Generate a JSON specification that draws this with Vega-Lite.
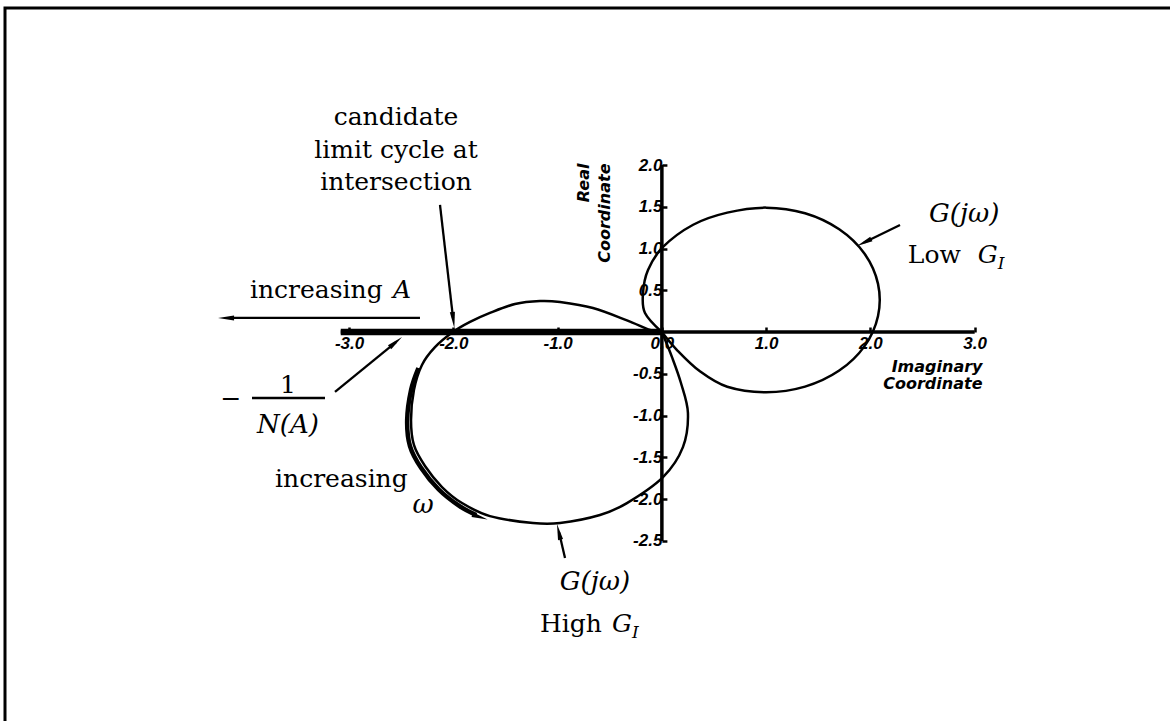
{
  "$schema": "https://vega.github.io/schema/vega-lite/v6.json",
  "width": 1173,
  "height": 725,
  "autosize": {"type": "none"},
  "padding": {"left": 5, "top": 8, "right": 0, "bottom": 0},
  "background": "white",
  "config": {
    "view": {"stroke": "black", "strokeWidth": 3},
    "axis": {"grid": false, "domain": false, "tickColor": "black", "labelColor": "black", "titleColor": "black", "labelFlush": false, "labelOverlap": false, "labelBound": false}
  },
  "layer": [
    {
      "data": {"values": [
        {"part": "imaginary axis", "x": -3.08, "x2": 3.0, "y": 0, "y2": 0},
        {"part": "real axis", "x": 0, "x2": 0, "y": -2.5, "y2": 2.0}
      ]},
      "mark": {"type": "rule", "color": "black", "strokeWidth": 3.5},
      "encoding": {
        "x": {"field": "x", "type": "quantitative",
          "scale": {"domain": [-6.3, 4.95], "nice": false, "zero": false},
          "axis": {"orient": "bottom", "offset": -401, "values": [-3, -2, -1, 0, 1, 2, 3],
            "labelExpr": "replace(format(datum.value, '.1f'), '\u2212', '-')",
            "tickSize": -5, "tickWidth": 2.5, "labelPadding": 8,
            "labelFont": "Liberation Sans", "labelFontSize": 17, "labelFontWeight": "bold", "labelFontStyle": "italic",
            "title": ["Imaginary", "Coordinate"], "titleFont": "DejaVu Sans", "titleFontSize": 16, "titleFontWeight": "bold", "titleFontStyle": "italic",
            "titleAlign": "right", "titleAngle": 0, "titleBaseline": "alphabetic", "titleLineHeight": 17, "titleX": 977, "titleY": 39}},
        "x2": {"field": "x2"},
        "y": {"field": "y", "type": "quantitative",
          "scale": {"domain": [-4.8, 3.88], "nice": false, "zero": false},
          "axis": {"orient": "left", "offset": -656.9, "values": [-2.5, -2, -1.5, -1, -0.5, 0.5, 1, 1.5, 2],
            "labelExpr": "replace(format(datum.value, '.1f'), '\u2212', '-')",
            "tickSize": -5, "tickWidth": 2.5, "labelPadding": 5,
            "labelFont": "Liberation Sans", "labelFontSize": 17, "labelFontWeight": "bold", "labelFontStyle": "italic",
            "title": ["Real", "Coordinate"], "titleFont": "DejaVu Sans", "titleFontSize": 16, "titleFontWeight": "bold", "titleFontStyle": "italic",
            "titleAlign": "right", "titleAngle": 270, "titleBaseline": "alphabetic", "titleLineHeight": 21, "titleX": -73.4, "titleY": 155}},
        "y2": {"field": "y2"}
      }
    },
    {
      "data": {"values": [{"locus": "-1/N(A)", "x": -3.08, "x2": 0, "y": 0, "y2": 0}]},
      "mark": {"type": "rule", "color": "black", "strokeWidth": 6.5},
      "encoding": {
        "x": {"field": "x", "type": "quantitative"}, "x2": {"field": "x2"},
        "y": {"field": "y", "type": "quantitative"}, "y2": {"field": "y2"}
      }
    },
    {
      "data": {"values": [
        {"curve": "High G_I", "i": 0, "x": 0, "y": 0},
        {"curve": "High G_I", "i": 1, "x": -0.114, "y": 0.025},
        {"curve": "High G_I", "i": 2, "x": -0.335, "y": 0.14},
        {"curve": "High G_I", "i": 3, "x": -0.661, "y": 0.288},
        {"curve": "High G_I", "i": 4, "x": -0.977, "y": 0.36},
        {"curve": "High G_I", "i": 5, "x": -1.169, "y": 0.372},
        {"curve": "High G_I", "i": 6, "x": -1.409, "y": 0.336},
        {"curve": "High G_I", "i": 7, "x": -1.649, "y": 0.229},
        {"curve": "High G_I", "i": 8, "x": -1.84, "y": 0.121},
        {"curve": "High G_I", "i": 9, "x": -2.004, "y": 0.0},
        {"curve": "High G_I", "i": 10, "x": -2.176, "y": -0.181},
        {"curve": "High G_I", "i": 11, "x": -2.301, "y": -0.394},
        {"curve": "High G_I", "i": 12, "x": -2.378, "y": -0.693},
        {"curve": "High G_I", "i": 13, "x": -2.406, "y": -1.052},
        {"curve": "High G_I", "i": 14, "x": -2.378, "y": -1.351},
        {"curve": "High G_I", "i": 15, "x": -2.272, "y": -1.603},
        {"curve": "High G_I", "i": 16, "x": -2.109, "y": -1.855},
        {"curve": "High G_I", "i": 17, "x": -1.917, "y": -2.047},
        {"curve": "High G_I", "i": 18, "x": -1.649, "y": -2.203},
        {"curve": "High G_I", "i": 19, "x": -1.236, "y": -2.286},
        {"curve": "High G_I", "i": 20, "x": -0.977, "y": -2.286},
        {"curve": "High G_I", "i": 21, "x": -0.594, "y": -2.19},
        {"curve": "High G_I", "i": 22, "x": -0.335, "y": -2.047},
        {"curve": "High G_I", "i": 23, "x": 0.011, "y": -1.736},
        {"curve": "High G_I", "i": 24, "x": 0.202, "y": -1.377},
        {"curve": "High G_I", "i": 25, "x": 0.25, "y": -0.97},
        {"curve": "High G_I", "i": 26, "x": 0.183, "y": -0.61},
        {"curve": "High G_I", "i": 27, "x": 0.097, "y": -0.3},
        {"curve": "High G_I", "i": 28, "x": 0, "y": 0},
        {"curve": "Low G_I", "i": 0, "x": 0, "y": 0},
        {"curve": "Low G_I", "i": 1, "x": 0.145, "y": -0.215},
        {"curve": "Low G_I", "i": 2, "x": 0.365, "y": -0.47},
        {"curve": "Low G_I", "i": 3, "x": 0.627, "y": -0.655},
        {"curve": "Low G_I", "i": 4, "x": 1.0, "y": -0.72},
        {"curve": "Low G_I", "i": 5, "x": 1.373, "y": -0.653},
        {"curve": "Low G_I", "i": 6, "x": 1.701, "y": -0.461},
        {"curve": "Low G_I", "i": 7, "x": 1.944, "y": -0.168},
        {"curve": "Low G_I", "i": 8, "x": 2.073, "y": 0.193},
        {"curve": "Low G_I", "i": 9, "x": 2.073, "y": 0.577},
        {"curve": "Low G_I", "i": 10, "x": 1.944, "y": 0.938},
        {"curve": "Low G_I", "i": 11, "x": 1.701, "y": 1.231},
        {"curve": "Low G_I", "i": 12, "x": 1.373, "y": 1.423},
        {"curve": "Low G_I", "i": 13, "x": 1.0, "y": 1.49},
        {"curve": "Low G_I", "i": 14, "x": 0.627, "y": 1.43},
        {"curve": "Low G_I", "i": 15, "x": 0.3, "y": 1.285},
        {"curve": "Low G_I", "i": 16, "x": 0.011, "y": 1.019},
        {"curve": "Low G_I", "i": 17, "x": -0.133, "y": 0.743},
        {"curve": "Low G_I", "i": 18, "x": -0.181, "y": 0.468},
        {"curve": "Low G_I", "i": 19, "x": -0.162, "y": 0.229},
        {"curve": "Low G_I", "i": 20, "x": 0, "y": 0}
      ]},
      "mark": {"type": "line", "interpolate": "cardinal", "color": "black", "strokeWidth": 2.5},
      "encoding": {
        "x": {"field": "x", "type": "quantitative"},
        "y": {"field": "y", "type": "quantitative"},
        "detail": {"field": "curve"},
        "order": {"field": "i", "type": "quantitative"}
      }
    },
    {
      "data": {"values": [
        {"i": 0, "x": -2.335, "y": -0.43},
        {"i": 1, "x": -2.405, "y": -0.69},
        {"i": 2, "x": -2.443, "y": -1.052},
        {"i": 3, "x": -2.416, "y": -1.365},
        {"i": 4, "x": -2.31, "y": -1.625},
        {"i": 5, "x": -2.14, "y": -1.885},
        {"i": 6, "x": -1.94, "y": -2.085},
        {"i": 7, "x": -1.78, "y": -2.19}
      ]},
      "mark": {"type": "line", "interpolate": "cardinal", "color": "black", "strokeWidth": 4.5},
      "encoding": {
        "x": {"field": "x", "type": "quantitative"},
        "y": {"field": "y", "type": "quantitative"},
        "order": {"field": "i", "type": "quantitative"}
      }
    },
    {
      "data": {"values": [
        {"arrow": "intersection", "x": -2.128, "y": 1.522, "x2": -2.003, "y2": 0.169},
        {"arrow": "increasing A", "x": -2.32, "y": 0.169, "x2": -4.142, "y2": 0.169},
        {"arrow": "-1/N(A)", "x": -3.135, "y": -0.717, "x2": -2.55, "y2": -0.119},
        {"arrow": "High G_I", "x": -0.929, "y": -2.705, "x2": -0.987, "y2": -2.393},
        {"arrow": "Low G_I", "x": 2.284, "y": 1.282, "x2": 1.94, "y2": 1.073},
        {"arrow": "fraction bar", "x": -3.931, "y": -0.789, "x2": -3.231, "y2": -0.789}
      ]},
      "mark": {"type": "rule", "color": "black", "strokeWidth": 2.3},
      "encoding": {
        "x": {"field": "x", "type": "quantitative"}, "x2": {"field": "x2"},
        "y": {"field": "y", "type": "quantitative"}, "y2": {"field": "y2"}
      }
    },
    {
      "data": {"values": [
        {"arrow": "intersection", "x": -2.0, "y": 0.145, "heading": 173},
        {"arrow": "increasing A", "x": -4.18, "y": 0.169, "heading": 270},
        {"arrow": "-1/N(A)", "x": -2.552, "y": -0.12, "heading": 51},
        {"arrow": "High G_I", "x": -0.989, "y": -2.391, "heading": 347},
        {"arrow": "Low G_I", "x": 1.94, "y": 1.073, "heading": 244},
        {"arrow": "increasing omega", "x": -1.745, "y": -2.215, "heading": 108}
      ]},
      "mark": {"type": "point", "shape": "M0,-1L0.32,1L-0.32,1Z", "filled": true, "color": "black", "size": 256, "opacity": 1},
      "encoding": {
        "x": {"field": "x", "type": "quantitative"},
        "y": {"field": "y", "type": "quantitative"},
        "angle": {"field": "heading", "type": "quantitative", "scale": null}
      }
    },
    {
      "data": {"values": [
        {"t": "candidate", "x": -2.55, "y": 2.479},
        {"t": "limit cycle at", "x": -2.55, "y": 2.084},
        {"t": "intersection", "x": -2.55, "y": 1.701},
        {"t": "\u2212", "x": -4.133, "y": -0.897},
        {"t": "1", "x": -3.586, "y": -0.729}
      ]},
      "mark": {"type": "text", "font": "DejaVu Serif", "fontSize": 25, "align": "center", "baseline": "alphabetic", "color": "black"},
      "encoding": {
        "x": {"field": "x", "type": "quantitative"},
        "y": {"field": "y", "type": "quantitative"},
        "text": {"field": "t"}
      }
    },
    {
      "data": {"values": [
        {"t": "increasing", "x": -3.95, "y": 0.408},
        {"t": "increasing", "x": -3.71, "y": -1.854},
        {"t": "High", "x": -1.169, "y": -3.594},
        {"t": "Low", "x": 2.359, "y": 0.827}
      ]},
      "mark": {"type": "text", "font": "DejaVu Serif", "fontSize": 25, "align": "left", "baseline": "alphabetic", "color": "black"},
      "encoding": {
        "x": {"field": "x", "type": "quantitative"},
        "y": {"field": "y", "type": "quantitative"},
        "text": {"field": "t"}
      }
    },
    {
      "data": {"values": [
        {"t": "N(A)", "x": -3.586, "y": -1.209},
        {"t": "\u03c9", "x": -2.291, "y": -2.166},
        {"t": "G(j\u03c9)", "x": -0.642, "y": -3.088},
        {"t": "G(j\u03c9)", "x": 2.9, "y": 1.317}
      ]},
      "mark": {"type": "text", "font": "DejaVu Serif", "fontSize": 26, "fontStyle": "italic", "align": "center", "baseline": "alphabetic", "color": "black"},
      "encoding": {
        "x": {"field": "x", "type": "quantitative"},
        "y": {"field": "y", "type": "quantitative"},
        "text": {"field": "t"}
      }
    },
    {
      "data": {"values": [
        {"t": "A", "x": -2.579, "y": 0.408},
        {"t": "G", "x": -0.479, "y": -3.594},
        {"t": "G", "x": 3.03, "y": 0.827}
      ]},
      "mark": {"type": "text", "font": "DejaVu Serif", "fontSize": 25, "fontStyle": "italic", "align": "left", "baseline": "alphabetic", "color": "black"},
      "encoding": {
        "x": {"field": "x", "type": "quantitative"},
        "y": {"field": "y", "type": "quantitative"},
        "text": {"field": "t"}
      }
    },
    {
      "data": {"values": [
        {"t": "I", "x": -0.287, "y": -3.666},
        {"t": "I", "x": 3.222, "y": 0.755}
      ]},
      "mark": {"type": "text", "font": "DejaVu Serif", "fontSize": 17, "fontStyle": "italic", "align": "left", "baseline": "alphabetic", "color": "black"},
      "encoding": {
        "x": {"field": "x", "type": "quantitative"},
        "y": {"field": "y", "type": "quantitative"},
        "text": {"field": "t"}
      }
    }
  ]
}
